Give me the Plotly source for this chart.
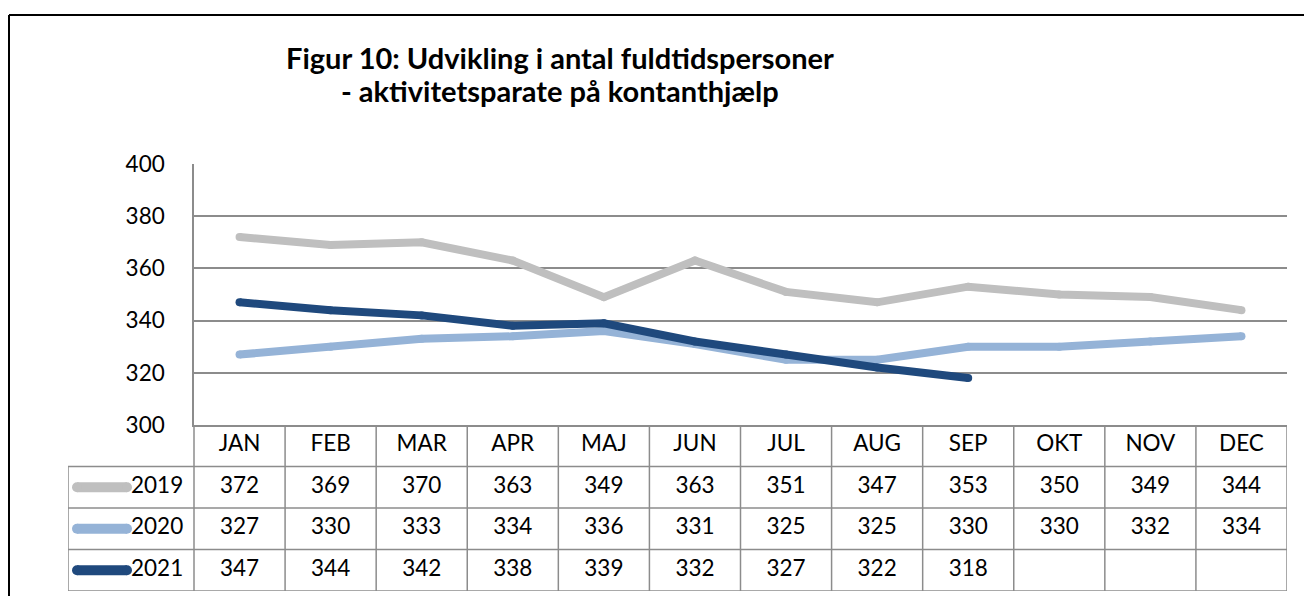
import plotly.graph_objects as go

months = ["JAN", "FEB", "MAR", "APR", "MAJ", "JUN", "JUL", "AUG", "SEP", "OKT", "NOV", "DEC"]
years = ["2019", "2020", "2021"]
v2019 = [372, 369, 370, 363, 349, 363, 351, 347, 353, 350, 349, 344]
v2020 = [327, 330, 333, 334, 336, 331, 325, 325, 330, 330, 332, 334]
v2021 = [347, 344, 342, 338, 339, 332, 327, 322, 318, None, None, None]
colors = ["#BFBFBF", "#95B3D7", "#1F497D"]
series = [v2019, v2020, v2021]

# the page adds an 8px body margin, so the figure sits at (8, 8);
# keep it a little short so the page never scrolls
W, H = 1296, 588
OFF = 8
FONT = "Lato"
FS = 22.5
GRID = "#8C8C8C"


def px(x):
    # screen pixel -> paper x
    return (x - OFF) / W


def py(y):
    # screen pixel -> paper y
    return 1 - (y - OFF) / H


plot_l, plot_r = 194, 1287
plot_t, plot_b = 164, 425
tab_l, tab_b = 68, 591
colw = (plot_r - plot_l) / 12
left = -0.5 - (plot_l - tab_l) / colw  # left edge of the legend column, table units


def tx(x):
    # screen pixel -> table x units
    return -0.5 + (x - plot_l) / colw


fig = go.Figure()

# chart lines
for name, vals, c in zip(years, series, colors):
    fig.add_trace(go.Scatter(
        x=months, y=vals, name=name, mode="lines+markers",
        line=dict(color=c, width=8), marker=dict(color=c, size=8),
        xaxis="x", yaxis="y", showlegend=False, hoverinfo="skip"
    ))

# data table: header row 3, 2019 -> row 2, 2020 -> row 1, 2021 -> row 0
idx = list(range(12))
fig.add_trace(go.Scatter(
    x=idx, y=[3] * 12, text=months, mode="text",
    textfont=dict(family=FONT, size=FS, color="black"),
    xaxis="x2", yaxis="y2", showlegend=False, hoverinfo="skip"
))
for r, (name, vals, c) in enumerate(zip(years, series, colors)):
    row = 2 - r
    fig.add_trace(go.Scatter(
        x=idx, y=[row] * 12, text=["" if v is None else str(v) for v in vals],
        mode="text", textfont=dict(family=FONT, size=FS, color="black"),
        xaxis="x2", yaxis="y2", showlegend=False, hoverinfo="skip"
    ))
    # legend key
    fig.add_trace(go.Scatter(
        x=[tx(77), tx(127)], y=[row, row], mode="lines+markers",
        line=dict(color=c, width=10), marker=dict(color=c, size=10),
        xaxis="x2", yaxis="y2", showlegend=False, hoverinfo="skip"
    ))
    fig.add_trace(go.Scatter(
        x=[tx(131)], y=[row], text=[name], mode="text",
        textposition="middle right",
        textfont=dict(family=FONT, size=FS, color="black"),
        xaxis="x2", yaxis="y2", showlegend=False, hoverinfo="skip"
    ))

shapes = []
tl = dict(color=GRID, width=1.5)
for yy in [2.5, 1.5, 0.5, -0.5]:
    shapes.append(dict(type="line", xref="x2", yref="y2", x0=left, x1=11.5, y0=yy, y1=yy, line=tl))
shapes.append(dict(type="line", xref="x2", yref="y2", x0=-0.5, x1=11.5, y0=3.5, y1=3.5, line=tl))
shapes.append(dict(type="line", xref="x2", yref="y2", x0=left, x1=left, y0=-0.5, y1=2.5, line=tl))
for k in range(13):
    xx = -0.5 + k
    shapes.append(dict(type="line", xref="x2", yref="y2", x0=xx, x1=xx, y0=-0.5, y1=3.5, line=tl))

# outer chart border (top and left)
shapes.append(dict(type="line", xref="paper", yref="paper", x0=px(9), x1=1, y0=py(15), y1=py(15),
                   line=dict(color="black", width=2)))
shapes.append(dict(type="line", xref="paper", yref="paper", x0=px(9), x1=px(9), y0=py(15), y1=0,
                   line=dict(color="black", width=2)))

fig.update_layout(
    width=W, height=H,
    margin=dict(l=0, r=0, t=0, b=0, autoexpand=False),
    paper_bgcolor="white", plot_bgcolor="white",
    font=dict(family=FONT, size=FS, color="black"),
    xaxis=dict(domain=[px(plot_l), px(plot_r)], range=[-0.5, 11.5], type="category",
               showticklabels=False, showgrid=False, zeroline=False, automargin=False,
               showline=True, linecolor=GRID, linewidth=1.5, ticks=""),
    yaxis=dict(domain=[py(plot_b), py(plot_t)], range=[300, 400], dtick=20, tick0=300,
               showgrid=True, gridcolor=GRID, gridwidth=1.5, zeroline=False, automargin=False,
               showline=True, linecolor=GRID, linewidth=1.5, ticks="",
               ticklabelstandoff=23, tickfont=dict(family=FONT, size=FS)),
    xaxis2=dict(domain=[px(tab_l), px(plot_r)], range=[left, 11.5], visible=False,
                anchor="y2", automargin=False),
    yaxis2=dict(domain=[max(py(tab_b), 0.0), py(plot_b)], range=[-0.5, 3.5], visible=False,
                anchor="x2", automargin=False),
    shapes=shapes,
    annotations=[
        dict(text="<b>Figur 10: Udvikling i antal fuldtidspersoner</b>", xref="paper", yref="paper",
             x=px(560), y=py(57), xanchor="center", yanchor="middle", showarrow=False,
             font=dict(family=FONT, size=29, color="black")),
        dict(text="<b>- aktivitetsparate på kontanthjælp</b>", xref="paper", yref="paper",
             x=px(560), y=py(90), xanchor="center", yanchor="middle", showarrow=False,
             font=dict(family=FONT, size=29, color="black")),
    ],
)

fig.write_html("out.html")
